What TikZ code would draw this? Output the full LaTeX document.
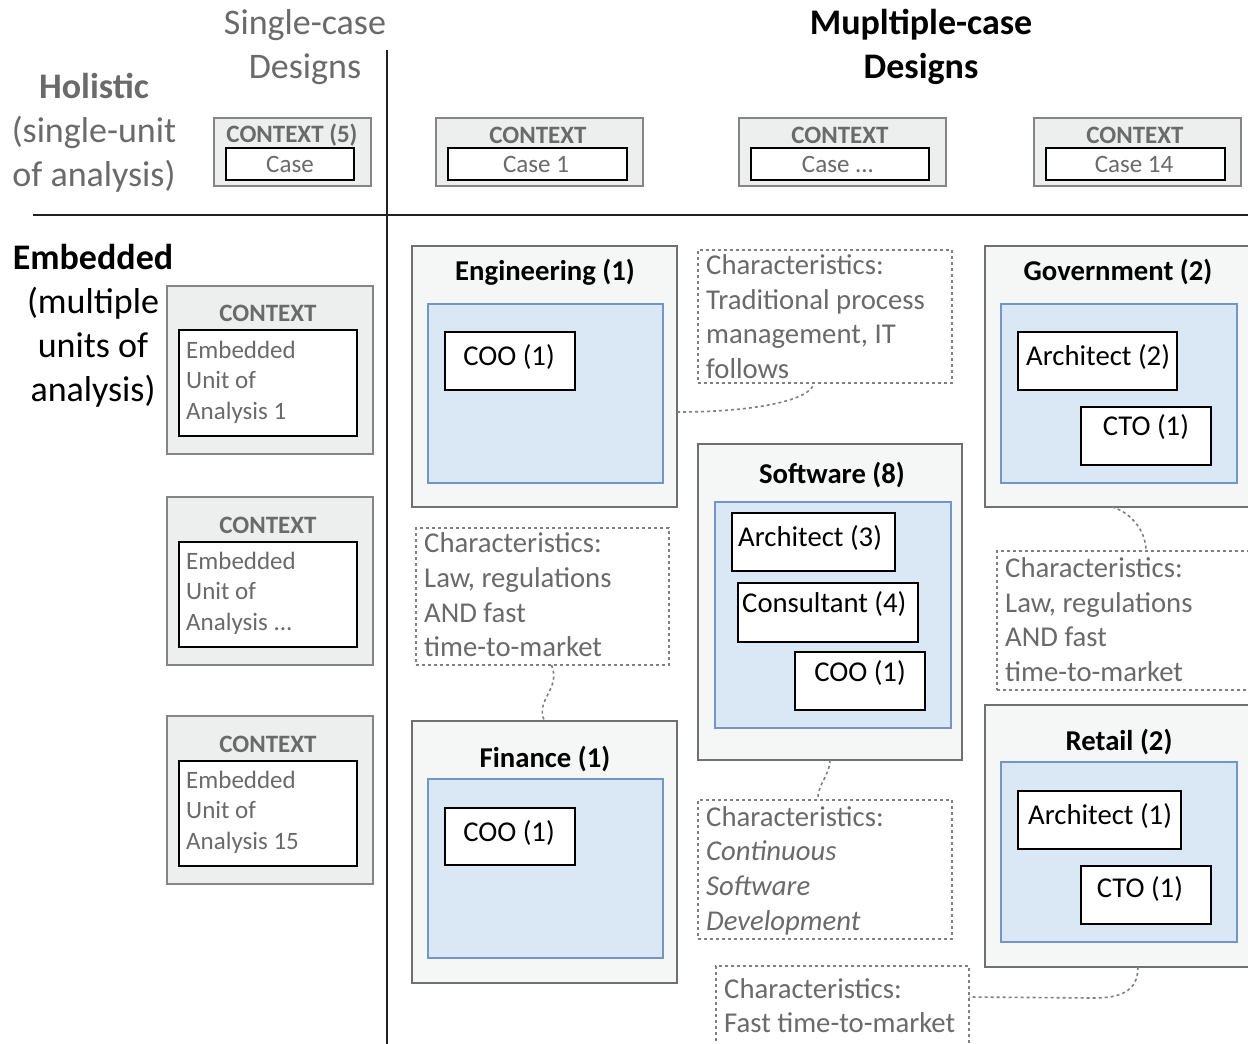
\documentclass[tikz,border=0pt]{standalone}
\usepackage{fontspec}
\setmainfont{Carlito}
\definecolor{txtgray}{HTML}{6A6A6A}
\definecolor{ctxfill}{HTML}{EDEEEE}
\definecolor{ctxdraw}{HTML}{858585}
\definecolor{boxfill}{HTML}{F5F6F6}
\definecolor{boxdraw}{HTML}{707070}
\definecolor{bluefill}{HTML}{DAE7F5}
\definecolor{bluedraw}{HTML}{7395CA}
\definecolor{axiscol}{HTML}{222222}
\definecolor{dotcol}{HTML}{808080}
\tikzset{
  rect/.style={rectangle, inner sep=0pt, outer sep=0pt, anchor=north west},
  ctxbox/.style={rect, draw=ctxdraw, fill=ctxfill, line width=2pt},
  whitebox/.style={rect, draw=black, fill=white, line width=1.8pt},
  indbox/.style={rect, draw=boxdraw, fill=boxfill, line width=2pt},
  bluebox/.style={rect, draw=bluedraw, fill=bluefill, line width=1.8pt},
  rolebox/.style={rect, draw=black, fill=white, line width=1.8pt},
  charbox/.style={rect, draw=dotcol, line width=1.6pt, dash pattern=on 3pt off 3pt},
  conn/.style={draw=dotcol, line width=1.6pt, dash pattern=on 3pt off 3pt},
  axis/.style={draw=axiscol, line width=2.5pt},
  hdr/.style={inner sep=0pt, yshift=-2.5pt, align=center, font=\fontsize{36}{44}\selectfont},
  ctxlbl/.style={inner sep=0pt, yshift=-1pt, text=txtgray, font=\fontsize{25}{30}\selectfont\bfseries},
  smalltxt/.style={inner sep=0pt, text=txtgray, font=\fontsize{25}{30.5}\selectfont},
  unittxt/.style={inner sep=0pt, yshift=-1pt, anchor=west, align=left, text=txtgray, font=\fontsize{25}{30.5}\selectfont},
  titletxt/.style={inner sep=0pt, yshift=-2pt, font=\fontsize{28.7}{35}\selectfont\bfseries},
  roletxt/.style={inner sep=0pt, yshift=-2pt, font=\fontsize{28.7}{35}\selectfont},
  chartxt/.style={inner sep=0pt, anchor=west, align=left, text=txtgray, font=\fontsize{28.7}{34.7}\selectfont},
}
% rectangle node given by its top-left corner, width and height
\newcommand{\bx}[6]{\node[#2, minimum width=#5pt, minimum height=#6pt] (#1) at (#3,#4) {};}
\begin{document}
\begin{tikzpicture}[x=1pt, y=-1pt]
\path[use as bounding box, clip] (0,0) rectangle (1248,1044);
\fill[white] (0,0) rectangle (1248,1044);

% axes
\coordinate (vtop) at (387,50);
\coordinate (vbot) at (387,1050);
\coordinate (hl) at (33,215);
\coordinate (hr) at (1260,215);
\draw[axis] (vtop) -- (vbot);
\draw[axis] (hl) -- (hr);

% headings
\node[hdr, text=txtgray] (single) at (305,44.5) {Single-case\\Designs};
\node[hdr, font=\fontsize{36}{44}\selectfont\bfseries] (multi) at (921,44.5) {Mupltiple-case\\Designs};
\node[hdr, text=txtgray] (holistic) at (94,130) {\textbf{Holistic}\\(single-unit\\of analysis)};
\node[hdr] (embedded) at (93,323.5) {\textbf{Embedded}\\(multiple\\units of\\analysis)};

% holistic row: context boxes with a case
\bx{c1}{ctxbox}{214}{118}{157}{68}
\bx{c1i}{whitebox}{226}{148}{128}{32}
\node[ctxlbl] (c1t) at (292,134) {CONTEXT (5)};
\node[smalltxt] (c1c) at (290,164) {Case};

\bx{c2}{ctxbox}{436}{118}{207}{68}
\bx{c2i}{whitebox}{448}{148}{179}{32}
\node[ctxlbl] (c2t) at (538,134) {CONTEXT};
\node[smalltxt] (c2c) at (536,164) {Case 1};

\bx{c3}{ctxbox}{739}{118}{207}{68}
\bx{c3i}{whitebox}{751}{148}{178}{32}
\node[ctxlbl] (c3t) at (840,134) {CONTEXT};
\node[smalltxt] (c3c) at (838,164) {Case ...};

\bx{c4}{ctxbox}{1034}{118}{207}{68}
\bx{c4i}{whitebox}{1046}{148}{179}{32}
\node[ctxlbl] (c4t) at (1135,134) {CONTEXT};
\node[smalltxt] (c4c) at (1134,164) {Case 14};

% embedded row, single-case column
\bx{ea}{ctxbox}{167}{286}{206}{168}
\bx{eai}{whitebox}{179}{330}{178}{106}
\node[ctxlbl] (eat) at (268,312) {CONTEXT};
\node[unittxt] (eau) at (186,381) {Embedded\\Unit of\\Analysis 1};

\bx{eb}{ctxbox}{167}{497}{206}{168}
\bx{ebi}{whitebox}{179}{542}{178}{105}
\node[ctxlbl] (ebt) at (268,524) {CONTEXT};
\node[unittxt] (ebu) at (186,592) {Embedded\\Unit of\\Analysis ...};

\bx{ec}{ctxbox}{167}{716}{206}{168}
\bx{eci}{whitebox}{179}{761}{178}{105}
\node[ctxlbl] (ect) at (268,743) {CONTEXT};
\node[unittxt] (ecu) at (186,811) {Embedded\\Unit of\\Analysis 15};

% Engineering
\bx{eng}{indbox}{412}{246}{265}{261}
\bx{engb}{bluebox}{428}{304}{235}{179}
\bx{engr}{rolebox}{445}{332}{130}{58}
\node[titletxt] (engt) at (545,270) {Engineering (1)};
\node[roletxt] (engrt) at (509,355) {COO (1)};

% Finance
\bx{fin}{indbox}{412}{721}{265}{262}
\bx{finb}{bluebox}{428}{779}{235}{179}
\bx{finr}{rolebox}{445}{808}{130}{57}
\node[titletxt] (fint) at (545,757) {Finance (1)};
\node[roletxt] (finrt) at (509,831) {COO (1)};

% Software
\bx{sw}{indbox}{698}{444}{264}{316}
\bx{swb}{bluebox}{715}{502}{236}{226}
\bx{swa}{rolebox}{732}{513}{163}{58}
\bx{swc}{rolebox}{738}{583}{180}{59}
\bx{swo}{rolebox}{795}{652}{130}{58}
\node[titletxt] (swt) at (832,473) {Software (8)};
\node[roletxt, anchor=west] (swat) at (738,536) {Architect (3)};
\node[roletxt, anchor=west] (swct) at (742,602) {Consultant (4)};
\node[roletxt] (swot) at (860,671) {COO (1)};

% Government
\bx{gov}{indbox}{985}{246}{300}{261}
\bx{govb}{bluebox}{1001}{304}{236}{179}
\bx{gova}{rolebox}{1018}{332}{159}{58}
\bx{govc}{rolebox}{1081}{407}{130}{58}
\node[titletxt] (govt) at (1118,270) {Government (2)};
\node[roletxt, anchor=west] (govat) at (1026,355) {Architect (2)};
\node[roletxt] (govct) at (1146,425) {CTO (1)};

% Retail
\bx{ret}{indbox}{985}{705}{300}{262}
\bx{retb}{bluebox}{1001}{762}{236}{180}
\bx{reta}{rolebox}{1018}{791}{163}{58}
\bx{retc}{rolebox}{1081}{866}{130}{58}
\node[titletxt] (rett) at (1119,740) {Retail (2)};
\node[roletxt, anchor=west] (retat) at (1028,814) {Architect (1)};
\node[roletxt] (retct) at (1140,887) {CTO (1)};

% characteristics notes
\bx{ch1}{charbox}{698}{250}{254}{133}
\node[chartxt] (ch1t) at (706,316.5) {Characteristics:\\Traditional process\\management, IT\\follows};
\bx{ch2}{charbox}{416}{528}{253}{137}
\node[chartxt] (ch2t) at (424,595) {Characteristics:\\Law, regulations\\AND fast\\time-to-market};
\bx{ch3}{charbox}{997}{551}{300}{139}
\node[chartxt] (ch3t) at (1005,619.5) {Characteristics:\\Law, regulations\\AND fast\\time-to-market};
\bx{ch4}{charbox}{698}{800}{254}{139}
\node[chartxt] (ch4t) at (706,870.5) {Characteristics:\\\textit{Continuous}\\\textit{Software}\\\textit{Development}};
\bx{ch5}{charbox}{716}{966}{253}{100}
\node[chartxt] (ch5t) at (724,1005.5) {Characteristics:\\Fast time-to-market};

% dotted links between sectors and their notes
\draw[conn] ([yshift=-35.5pt]eng.east) .. controls +(83,0) and +(-2,16) .. ([xshift=-11pt]ch1.south);
\draw[conn] ([xshift=9pt]ch2.south) .. controls +(10,24) and +(-10,-21) .. (fin.north);
\draw[conn] ([xshift=127pt]gov.south west) .. controls +(18,5) and +(0,-21) .. ([xshift=149pt]ch3.north west);
\draw[conn] (sw.south) .. controls +(0,15) and +(-1,-15) .. ([xshift=-7pt]ch4.north);
\draw[conn] ([xshift=153pt]ret.south west) .. controls +(0,26) and +(25,0) .. ++(-45,31) -- ([yshift=-31pt]ch5.north east);
\end{tikzpicture}
\end{document}
